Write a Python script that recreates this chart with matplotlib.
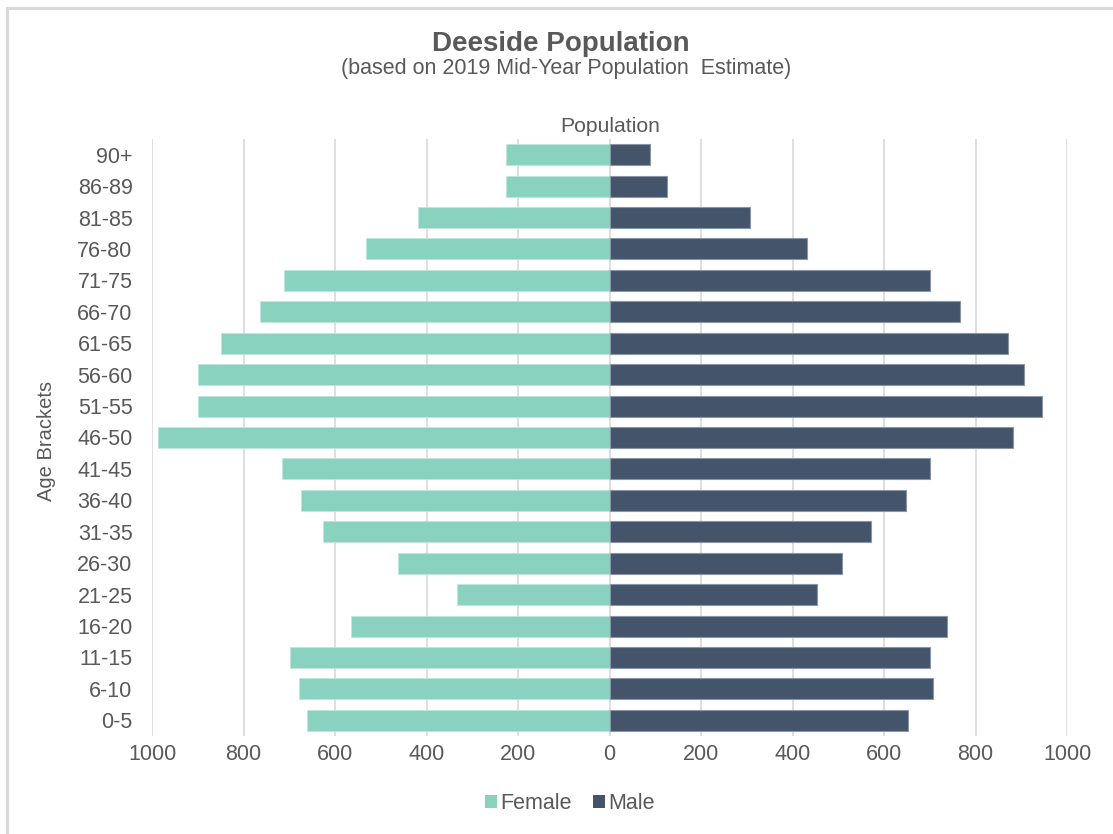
import matplotlib
matplotlib.use('Agg')
import matplotlib.pyplot as plt
from matplotlib.patches import Patch, Rectangle
from matplotlib.ticker import FuncFormatter

plt.rcParams['font.family'] = ['Liberation Sans', 'DejaVu Sans']

# age brackets, youngest first (bottom of the pyramid)
age_brackets = ['0-5', '6-10', '11-15', '16-20', '21-25', '26-30', '31-35', '36-40',
                '41-45', '46-50', '51-55', '56-60', '61-65', '66-70', '71-75',
                '76-80', '81-85', '86-89', '90+']
female = [661, 678, 698, 565, 334, 462, 626, 675, 716, 987, 900, 900, 850, 765,
          711, 533, 419, 226, 226]
male = [653, 706, 700, 738, 453, 508, 572, 647, 700, 881, 945, 905, 872, 767,
        700, 432, 307, 126, 88]
x_ticks = [-1000, -800, -600, -400, -200, 0, 200, 400, 600, 800, 1000]

text_col = '#595959'
female_col = '#89D2BF'
male_col = '#44546A'

fig = plt.figure(figsize=(11.13, 8.34), dpi=100)
ax = fig.add_axes([0.1366, 0.1175, 0.8221, 0.7159])

ypos = list(range(len(age_brackets)))
neg_female = [-v for v in female]
ax.barh(ypos, neg_female, height=0.667, color=female_col, edgecolor='#bfe6dc',
        linewidth=0.6, zorder=3)
ax.barh(ypos, male, height=0.667, color=male_col, edgecolor='#8a96a8',
        linewidth=0.8, zorder=3)

ax.set_xlim(-1000, 1000)
ax.set_ylim(-0.5, len(age_brackets) - 0.5)
ax.set_xticks(x_ticks)
ax.xaxis.set_major_formatter(FuncFormatter(lambda v, p: f'{abs(int(v))}'))
ax.set_yticks(ypos)
ax.set_yticklabels(age_brackets)
ax.tick_params(axis='x', length=0, pad=6, labelsize=15.5, colors=text_col)
ax.tick_params(axis='y', length=0, pad=14, labelsize=15.5, colors=text_col)
ax.grid(axis='x', color='#D9D9D9', linewidth=1.2, zorder=0)
for s in ax.spines.values():
    s.set_visible(False)

ax.set_ylabel('Age Brackets', fontsize=14.5, color=text_col, labelpad=6)
ax.yaxis.set_label_coords(-0.105, 0.495)

# axis title sits above the plot
fig.text(0.548, 0.848, 'Population', ha='center', va='center', fontsize=15.2, color=text_col)

fig.text(0.504, 0.947, 'Deeside Population', ha='center', va='center',
         fontsize=20, fontweight='bold', color=text_col)
fig.text(0.509, 0.918, '(based on 2019 Mid-Year Population  Estimate)', ha='center',
         va='center', fontsize=15.5, color=text_col)

handles = [Patch(facecolor=female_col, label='Female'), Patch(facecolor=male_col, label='Male')]
fig.legend(handles=handles, loc='center', bbox_to_anchor=(0.512, 0.037), ncol=2,
           frameon=False, fontsize=15.5, labelcolor=text_col, handlelength=0.55,
           handleheight=0.55, handletextpad=0.15, columnspacing=1.0)

# chart border, clipped at the right and bottom edges
fig.patches.append(Rectangle((7 / 1113, -0.1), 1.2, 1 - 8 / 834 + 0.1,
                             transform=fig.transFigure, fill=False,
                             edgecolor='#D9D9D9', linewidth=2.2))

plt.savefig('out.png', dpi=100)
plt.close()
